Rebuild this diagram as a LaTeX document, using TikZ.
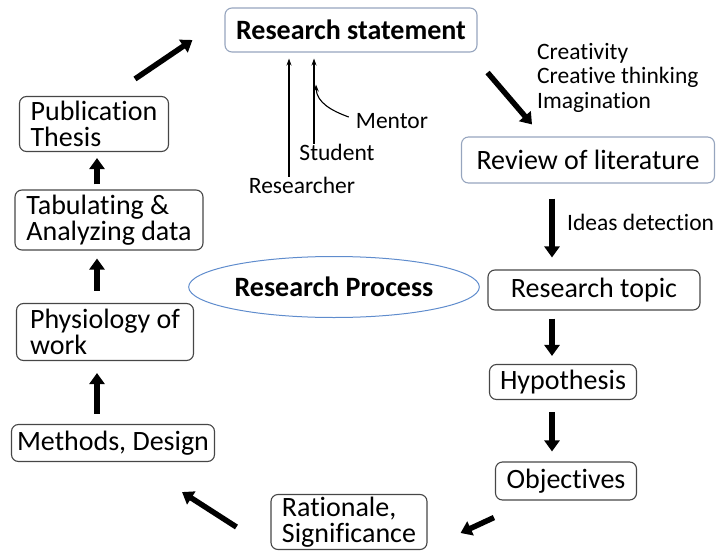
\documentclass[tikz,border=0pt]{standalone}
\usepackage{fontspec}
\setmainfont{Carlito}[Ligatures=NoCommon]
\usetikzlibrary{arrows.meta,shapes.geometric}

\definecolor{boxline}{RGB}{70,70,70}
\definecolor{paleline}{RGB}{150,165,190}
\definecolor{ovalline}{RGB}{95,140,205}

\tikzset{
  stage/.style={draw=boxline,line width=1.1pt,rounded corners=7pt,
    align=left,inner xsep=4pt,inner ysep=2pt,
    font=\fontsize{28}{26}\selectfont},
  mainstage/.style={stage,draw=paleline},
  note/.style={align=left,inner sep=1pt,font=\fontsize{23.5}{24.5}\selectfont},
  bigarrow/.style={line width=5.5pt,-{Triangle[length=11pt,width=15pt]}},
  thinarrow/.style={line width=1.1pt,-{Stealth[length=7pt,width=5pt]}},
}

\begin{document}
\begin{tikzpicture}[x=1pt,y=-1pt]
  \useasboundingbox (0,0) rectangle (725,551);
  \path
  node[mainstage,minimum width=252,minimum height=44] (statement) at (351,30) {\textbf{Research statement}}
  node[mainstage,minimum width=253,minimum height=46] (review) at (588,160) {Review of literature}
  node[stage,minimum width=212,minimum height=40] (topic) at (594,290) {Research topic}
  node[stage,minimum width=147,minimum height=35] (hypo) at (563,382) {Hypothesis}
  node[stage,minimum width=141,minimum height=38] (objectives) at (566,481) {Objectives}
  node[stage,minimum width=156,minimum height=55] (rationale) at (349,522) {Rationale,\\Significance}
  node[stage,minimum width=203,minimum height=37] (methods) at (113,443) {Methods, Design}
  node[stage,minimum width=177,minimum height=57] (physiology) at (105,332) {Physiology of\\work}
  node[stage,minimum width=188,minimum height=60] (tabulating) at (109,220) {Tabulating \&\\Analyzing data}
  node[stage,minimum width=149,minimum height=55] (publication) at (94,124) {Publication\\Thesis}
  node[ellipse,draw=ovalline,line width=1pt,minimum width=242,minimum height=61,
       font=\fontsize{28}{30}\selectfont] (process) at (334,287) {\textbf{Research Process}}
  ;
  % side notes
  \path
  node[note,anchor=north west] (creativity) at (536,42) {Creativity\\Creative thinking\\Imagination}
  node[note,anchor=west] (ideas) at (566,222) {Ideas detection}
  node[note] (researcher) at (302,185) {Researcher}
  node[note] (student) at (337,152) {Student}
  node[note] (mentor) at (392,121) {Mentor}
  ;
  % the cycle
  \draw[bigarrow] ([xshift=10pt,yshift=-20pt]statement.south east) -- ([xshift=-56pt,yshift=12pt]review.north);
  \draw[bigarrow] ([xshift=-36pt,yshift=-15pt]review.south) -- ([xshift=-42pt,yshift=12pt]topic.north);
  \draw[bigarrow] ([xshift=-42pt,yshift=-8pt]topic.south) -- ([xshift=-11pt,yshift=8pt]hypo.north);
  \draw[bigarrow] ([xshift=-11pt,yshift=-12pt]hypo.south) -- ([xshift=-14pt,yshift=10pt]objectives.north);
  \draw[bigarrow] ([xshift=-1pt,yshift=-17pt]objectives.south west) -- ([xshift=33pt,yshift=-11pt]rationale.east);
  \draw[bigarrow] ([xshift=-34pt,yshift=-5pt]rationale.west) -- ([xshift=-33pt,yshift=-30pt]methods.south east);
  \draw[bigarrow] ([xshift=-16pt,yshift=10pt]methods.north) -- ([xshift=-8pt,yshift=-12pt]physiology.south);
  \draw[bigarrow] ([xshift=-8pt,yshift=12pt]physiology.north) -- ([xshift=-12pt,yshift=-8pt]tabulating.south);
  \draw[bigarrow] ([xshift=-12pt,yshift=5pt]tabulating.north) -- ([xshift=3pt,yshift=-6pt]publication.south);
  \draw[bigarrow] ([xshift=41pt,yshift=17pt]publication.north) -- ([xshift=-32pt,yshift=-10pt]statement.west);
  % who contributes to the statement
  \draw[thinarrow] ([xshift=-13pt,yshift=-1pt]researcher.north) -- ([xshift=-62pt,yshift=-6pt]statement.south);
  \draw[thinarrow] ([xshift=-23pt,yshift=-1pt]student.north) -- ([xshift=-37pt,yshift=-6pt]statement.south);
  \draw[thinarrow] ([xshift=-6pt,yshift=4pt]mentor.west) to[out=160,in=-88] ([xshift=-35pt,yshift=-32pt]statement.south);
\end{tikzpicture}
\end{document}
